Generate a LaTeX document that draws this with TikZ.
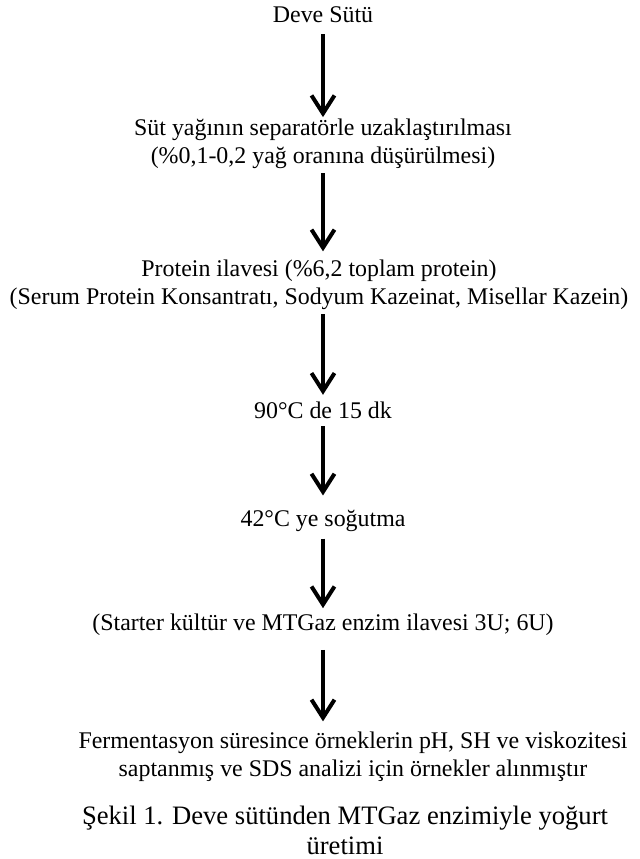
\documentclass[tikz,border=0pt]{standalone}
\usepackage{fontspec}
\setmainfont{Liberation Serif}
\usepackage{tikz}
\usetikzlibrary{arrows.meta}
\tikzset{
  stepnode/.style={align=center, font=\fontsize{11.95}{14}\selectfont, inner sep=2pt},
  capnode/.style={align=center, font=\fontsize{13.3}{15}\selectfont, inner sep=2pt},
  flowarrow/.style={-{Straight Barb[length=9pt,width=11.5pt,line width=2pt]}, line width=1.8pt, draw=black}
}

\begin{document}
\begin{tikzpicture}[x=0.5pt, y=-0.5pt]
  \useasboundingbox (0,0) rectangle (639,859);
  \node[stepnode] (deve) at (323,15) {Deve Sütü};
  \node[stepnode] (sut) at (323,144) {Süt yağının separatörle uzaklaştırılması\\(\%0,1-0,2 yağ oranına düşürülmesi)};
  \node[stepnode] (protein) at (319,285) {Protein ilavesi (\%6,2 toplam protein)\\(Serum Protein Konsantratı, Sodyum Kazeinat, Misellar Kazein)};
  \node[stepnode] (isit) at (323,410) {90°C de 15 dk};
  \node[stepnode] (sogut) at (323,521) {42°C ye soğutma};
  \node[stepnode] (starter) at (323,625) {(Starter kültür ve MTGaz enzim ilavesi 3U; 6U)};
  \node[stepnode] (ferm) at (353,757) {Fermentasyon süresince örneklerin pH, SH ve viskozitesi\\saptanmış ve SDS analizi için örnekler alınmıştır};
  \node[capnode] (sekil) at (345,830) {Şekil 1. Deve sütünden MTGaz enzimiyle yoğurt\\üretimi};
  \draw[flowarrow, shorten <=3.5pt, shorten >=-1.2pt] (deve) -- (sut);
  \draw[flowarrow, shorten >=2.2pt] (sut.south) -- (sut.south |- protein.north);
  \draw[flowarrow, shorten >=1.2pt] (protein.south -| isit.north) -- (isit);
  \draw[flowarrow, shorten <=1.8pt, shorten >=5.2pt] (isit) -- (sogut);
  \draw[flowarrow, shorten <=1.2pt, shorten >=0.8pt] (sogut) -- (starter);
  \draw[flowarrow, shorten <=4.8pt, shorten >=3.2pt] (starter.south) -- (starter.south |- ferm.north);
\end{tikzpicture}
\end{document}
